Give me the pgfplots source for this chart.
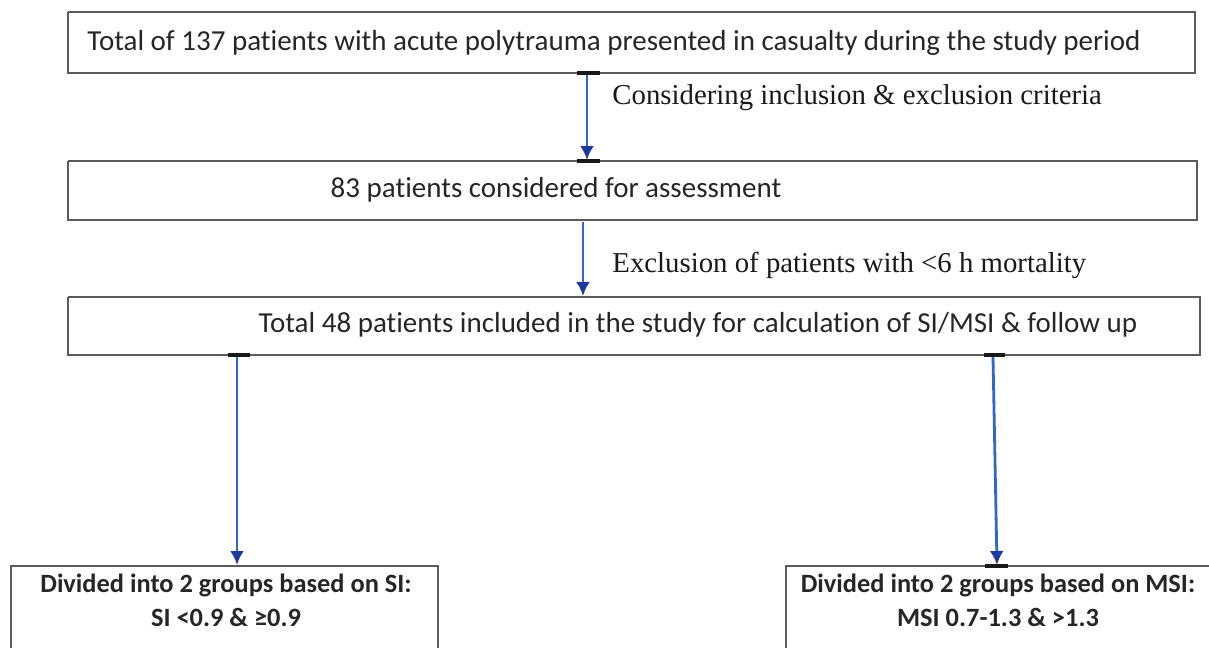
\documentclass[border=0pt]{standalone}
\usepackage{pgfplots}
\pgfplotsset{compat=1.18}
\usepackage{fontspec}
\setmainfont{Liberation Serif}
\newfontfamily\carlito[Ligatures=NoCommon]{Carlito}
\usetikzlibrary{arrows.meta}
\definecolor{boxgray}{HTML}{5A5A5A}
\definecolor{arrowblue}{HTML}{2F68C8}
\definecolor{arrownavy}{HTML}{1E3A9C}
\begin{document}
\begin{tikzpicture}
\begin{axis}[
  width=604.5pt, height=324pt, scale only axis,
  xmin=0, xmax=1209, ymin=0, ymax=648, y dir=reverse,
  hide axis, clip=true,
  every axis plot/.append style={line join=miter},
]
% invisible frame so that the picture covers the whole axis area
\addplot[draw=none, forget plot] coordinates {(0,0) (1209,648)};
% boxes
\addplot[draw=boxgray, line width=1.2pt] coordinates {(68,12) (1195,12) (1195,73) (68,73) (68,12)};
\addplot[draw=boxgray, line width=1.2pt] coordinates {(68,161) (1197,161) (1197,220) (68,220) (68,161)};
\addplot[draw=boxgray, line width=1.2pt] coordinates {(68,297) (1200,297) (1200,355) (68,355) (68,297)};
\addplot[draw=boxgray, line width=1.2pt] coordinates {(11,648) (11,566) (438,566) (438,648)};
\addplot[draw=boxgray, line width=1.2pt] coordinates {(786,648) (786,566) (1209,566)};
% short black marks at arrow ends
\addplot[draw=black!90, line width=2pt] coordinates {(577,73) (600,73)};
\addplot[draw=black!90, line width=2pt] coordinates {(577,161) (600,161)};
\addplot[draw=black!90, line width=2pt] coordinates {(228,355) (250,355)};
\addplot[draw=black!90, line width=2pt] coordinates {(984,355) (1005,355)};
\addplot[draw=black!90, line width=2pt] coordinates {(985,566) (1008,566)};
% arrows
\addplot[draw=arrowblue, line width=1.4pt, -{Latex[length=7pt,width=7pt,color=arrownavy]}] coordinates {(587,75) (587,160)};
\addplot[draw=arrowblue, line width=1.4pt, -{Latex[length=7pt,width=7pt,color=arrownavy]}] coordinates {(583,222) (583,296)};
\addplot[draw=arrowblue, line width=1.4pt, -{Latex[length=7pt,width=7pt,color=arrownavy]}] coordinates {(237,357) (237,565)};
\addplot[draw=arrowblue, line width=1.4pt, -{Latex[length=7pt,width=7pt,color=arrownavy]}] coordinates {(993,357) (997,565)};
% texts
\node[text=black!85, font=\carlito\fontsize{14.5}{16}\selectfont] at (axis cs:614,43) {Total of 137 patients with acute polytrauma presented in casualty during the study period};
\node[text=black!85, font=\carlito\fontsize{14.5}{16}\selectfont] at (axis cs:556,190) {83 patients considered for assessment};
\node[text=black!85, font=\carlito\fontsize{14.5}{16}\selectfont] at (axis cs:698,325) {Total 48 patients included in the study for calculation of SI/MSI \& follow up};
\node[text=black!90, anchor=west, inner sep=0pt, font=\fontsize{14.4}{16}\selectfont] at (axis cs:612,98) {Considering inclusion \& exclusion criteria};
\node[text=black!90, anchor=west, inner sep=0pt, font=\fontsize{14.4}{16}\selectfont] at (axis cs:612,265) {Exclusion of patients with <6 h mortality};
\node[text=black!85, font=\carlito\bfseries\fontsize{13.2}{15}\selectfont] at (axis cs:226,585) {Divided into 2 groups based on SI:};
\node[text=black!85, font=\carlito\bfseries\fontsize{13.2}{15}\selectfont] at (axis cs:226,617) {SI <0.9 \& ≥0.9};
\node[text=black!85, font=\carlito\bfseries\fontsize{13.2}{15}\selectfont] at (axis cs:998,585) {Divided into 2 groups based on MSI:};
\node[text=black!85, font=\carlito\bfseries\fontsize{13.2}{15}\selectfont] at (axis cs:998,617) {MSI 0.7-1.3 \& >1.3};
\end{axis}
\end{tikzpicture}
\end{document}
